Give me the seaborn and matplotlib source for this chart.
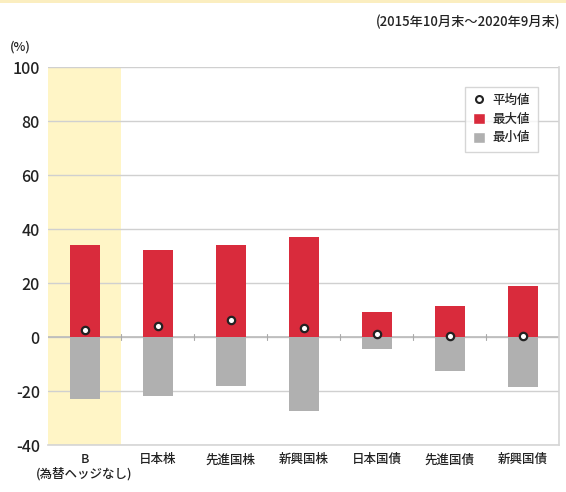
import seaborn as sns
import matplotlib.pyplot as plt
import pandas as pd
from matplotlib.lines import Line2D
from matplotlib.patches import Patch, Rectangle

sns.set_style("white")
plt.rcParams['font.family'] = ['Noto Sans CJK JP', 'DejaVu Sans']
plt.rcParams['font.weight'] = 'medium'
plt.rcParams['axes.unicode_minus'] = False

# values (%)
categories = ["B\n(為替ヘッジなし)", "日本株", "先進国株", "新興国株", "日本国債", "先進国債", "新興国債"]
max_vals = [34.0, 32.2, 34.0, 37.0, 9.3, 11.5, 19.0]
min_vals = [-23.0, -22.0, -18.0, -27.5, -4.4, -12.6, -18.5]
mean_vals = [2.6, 4.0, 6.3, 3.3, 1.0, 0.4, 0.4]

df = pd.DataFrame({"cat": categories, "max": max_vals, "min": min_vals, "mean": mean_vals})

red = "#d92b3c"
grey = "#b0b0b0"

fig = plt.figure(figsize=(5.66, 4.92), dpi=100)
ax = fig.add_axes([0.085, 0.0955, 0.903, 0.768])

# highlight the first category
ax.axvspan(-0.5, 0.5, color="#fff5c6", zorder=0, lw=0)

sns.barplot(data=df, x="cat", y="max", color=red, width=0.41, saturation=1, linewidth=0, ax=ax, zorder=3)
sns.barplot(data=df, x="cat", y="min", color=grey, width=0.41, saturation=1, linewidth=0, ax=ax, zorder=3)
ax.scatter(range(len(categories)), df["mean"], s=28, facecolor="white", edgecolor="#222222",
           linewidth=1.6, zorder=5)

ax.set_ylim(-40, 100)
ax.set_xlim(-0.5, len(categories) - 0.5)
ax.set_yticks(range(-40, 101, 20))
ax.grid(axis="y", color="#d0d0d0", linewidth=1.0, zorder=1)
ax.axhline(0, color="#bbbbbb", linewidth=1.2, zorder=2)
for b in range(1, len(categories)):
    ax.plot([b - 0.5, b - 0.5], [-1.2, 1.2], color="#aaaaaa", lw=0.8, zorder=2)

ax.set_xlabel("")
ax.set_ylabel("")
for side in ["top", "left"]:
    ax.spines[side].set_visible(False)
for side in ["right", "bottom"]:
    ax.spines[side].set_color("#d5d5d5")
    ax.spines[side].set_linewidth(1.2)
ax.tick_params(axis="y", labelsize=11.5, length=4, color="#999999", pad=2, labelcolor="#222222")
ax.tick_params(axis="x", labelsize=9, length=0, pad=6, labelcolor="#222222")
for lbl in ax.get_xticklabels():
    lbl.set_linespacing(1.1)

fig.text(0.99, 0.955, "(2015年10月末～2020年9月末)", ha="right", va="center", fontsize=9.5, color="#222222")
fig.text(0.018, 0.905, "(%)", ha="left", va="center", fontsize=9, color="#222222")
fig.add_artist(Rectangle((0, 0.994), 1, 0.006, transform=fig.transFigure, color="#fbeec0", lw=0))

handles = [
    Line2D([], [], marker="o", linestyle="", markerfacecolor="white", markeredgecolor="#222222",
           markeredgewidth=1.5, markersize=5, label="平均値"),
    Patch(facecolor=red, label="最大値"),
    Patch(facecolor=grey, label="最小値"),
]
leg = ax.legend(handles=handles, loc="upper right", bbox_to_anchor=(0.97, 0.965), fontsize=9,
                frameon=True, fancybox=False, edgecolor="#cccccc", handlelength=1.0, handleheight=1.0,
                handletextpad=0.6, borderpad=0.6, labelspacing=0.45)
leg.get_frame().set_linewidth(1.0)

plt.savefig("out.png", dpi=100)
plt.close()
